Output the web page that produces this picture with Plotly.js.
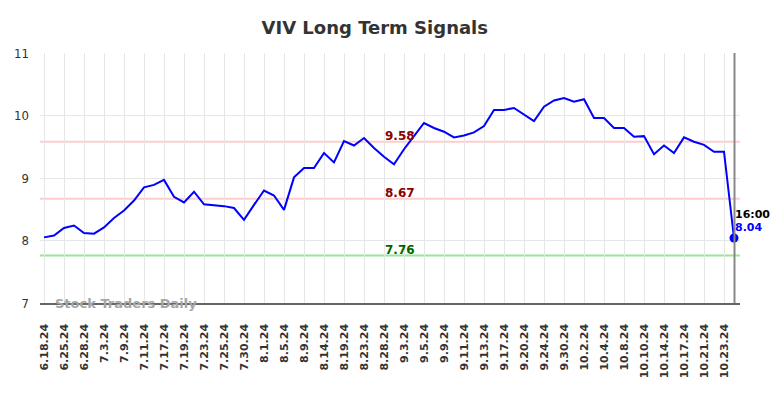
<!DOCTYPE html>
<html>
<head>
<meta charset="utf-8">
<script src="https://cdn.plot.ly/plotly-3.0.1.min.js"></script>
<style>html,body{margin:0;padding:0;background:#fff;}#chart{width:784px;height:398px;}</style>
</head>
<body>
<div id="chart"></div>
<script>
// Closing prices, one per trading session
const prices = [8.05, 8.08, 8.20, 8.24, 8.12, 8.11, 8.21, 8.36, 8.48, 8.64,
  8.85, 8.89, 8.97, 8.70, 8.61, 8.78, 8.58, 8.57, 8.55, 8.52,
  8.33, 8.57, 8.80, 8.72, 8.49, 9.01, 9.16, 9.16, 9.40, 9.25,
  9.59, 9.52, 9.64, 9.48, 9.34, 9.22, 9.46, 9.67, 9.88, 9.80,
  9.74, 9.65, 9.68, 9.73, 9.83, 10.09, 10.09, 10.12, 10.01, 9.91,
  10.14, 10.24, 10.28, 10.22, 10.26, 9.96, 9.96, 9.80, 9.80, 9.66,
  9.67, 9.38, 9.52, 9.40, 9.65, 9.58, 9.53, 9.42, 9.42, 8.04];
// Tick labels, shown on every second session
const tickLabels = ['6.18.24','6.25.24','6.28.24','7.3.24','7.9.24','7.11.24','7.17.24','7.19.24',
  '7.23.24','7.25.24','7.30.24','8.1.24','8.5.24','8.9.24','8.14.24','8.19.24','8.23.24','8.28.24',
  '9.3.24','9.5.24','9.9.24','9.11.24','9.13.24','9.17.24','9.20.24','9.24.24','9.30.24','10.2.24',
  '10.4.24','10.8.24','10.10.24','10.14.24','10.17.24','10.21.24','10.23.24'];
// Signal levels
const signalLevels = [9.58, 8.67, 7.76];
const signalLabels = ['9.58', '8.67', '7.76'];
const lastTime = '16:00';

const xIdx = prices.map((_, i) => i);
const tickVals = tickLabels.map((_, i) => i * 2);
const lastI = prices.length - 1;
const lastP = prices[lastI];

const lineCols = ['#ffcccc', '#ffcccc', '#99e699'];
const textCols = ['#8b0000', '#8b0000', '#006400'];

const shapes = signalLevels.map((v, k) => ({
  type: 'line', xref: 'paper', x0: 0, x1: 1, yref: 'y', y0: v, y1: v,
  line: {color: lineCols[k], width: 2}, layer: 'below'
}));
shapes.push({type: 'line', xref: 'x', x0: lastI + 0.05, x1: lastI + 0.05, yref: 'paper', y0: 0, y1: 1,
  line: {color: '#888888', width: 2}});

const annotations = signalLevels.map((v, k) => ({
  xref: 'paper', x: 0.514, yref: 'y', y: v, yanchor: 'bottom', yshift: -3,
  text: signalLabels[k], showarrow: false,
  font: {family: 'DejaVu Sans', size: 12, color: textCols[k], weight: 'bold'}
}));
annotations.push({xref: 'x', x: lastI, yref: 'y', y: lastP, xanchor: 'left', yanchor: 'middle',
  yshift: 24, xshift: -1, text: lastTime, showarrow: false,
  font: {family: 'DejaVu Sans', size: 11, color: '#000', weight: 'bold'}});
annotations.push({xref: 'x', x: lastI, yref: 'y', y: lastP, xanchor: 'left', yanchor: 'middle',
  yshift: 11, xshift: -1, text: lastP.toFixed(2), showarrow: false,
  font: {family: 'DejaVu Sans', size: 11, color: '#0000ff', weight: 'bold'}});
annotations.push({xref: 'paper', x: 0.019, yref: 'paper', y: 0, xanchor: 'left', yanchor: 'middle',
  text: 'Stock Traders Daily', showarrow: false,
  font: {family: 'DejaVu Sans', size: 13, color: '#a6a6a6', weight: 'bold'}});

const traces = [
  {x: xIdx, y: prices, type: 'scatter', mode: 'lines', line: {color: '#0000ff', width: 2}, hoverinfo: 'skip'},
  {x: [lastI], y: [lastP], type: 'scatter', mode: 'markers', marker: {color: '#0000ff', size: 9}, hoverinfo: 'skip'}
];

const layout = {
  width: 784, height: 398,
  margin: {l: 40, r: 44, t: 53, b: 95},
  paper_bgcolor: '#fff', plot_bgcolor: '#fff',
  showlegend: false,
  title: {text: 'VIV Long Term Signals', x: 0.478, xref: 'container', xanchor: 'center', y: 0.93, yanchor: 'middle',
    font: {family: 'DejaVu Sans', size: 18, color: '#333333', weight: 'bold'}},
  xaxis: {
    range: [-0.4, 69.6], tickvals: tickVals, ticktext: tickLabels, tickangle: -90,
    showgrid: true, gridcolor: '#e6e6e6', gridwidth: 1,
    showline: true, linecolor: '#666666', linewidth: 1.5, mirror: false,
    zeroline: false, ticks: '', ticklabelstandoff: 15,
    tickfont: {family: 'DejaVu Sans', size: 11, color: '#333333', weight: 'bold'}
  },
  yaxis: {
    range: [7, 11], tickvals: [7, 8, 9, 10, 11], showgrid: true, gridcolor: '#e6e6e6', gridwidth: 1,
    zeroline: false, showline: false, ticks: '', ticklabelstandoff: 10,
    tickfont: {family: 'DejaVu Sans Condensed, DejaVu Sans', size: 13, color: '#333333'}
  },
  shapes: shapes,
  annotations: annotations
};

Plotly.newPlot('chart', traces, layout, {displayModeBar: false, staticPlot: true});
</script>
</body>
</html>
